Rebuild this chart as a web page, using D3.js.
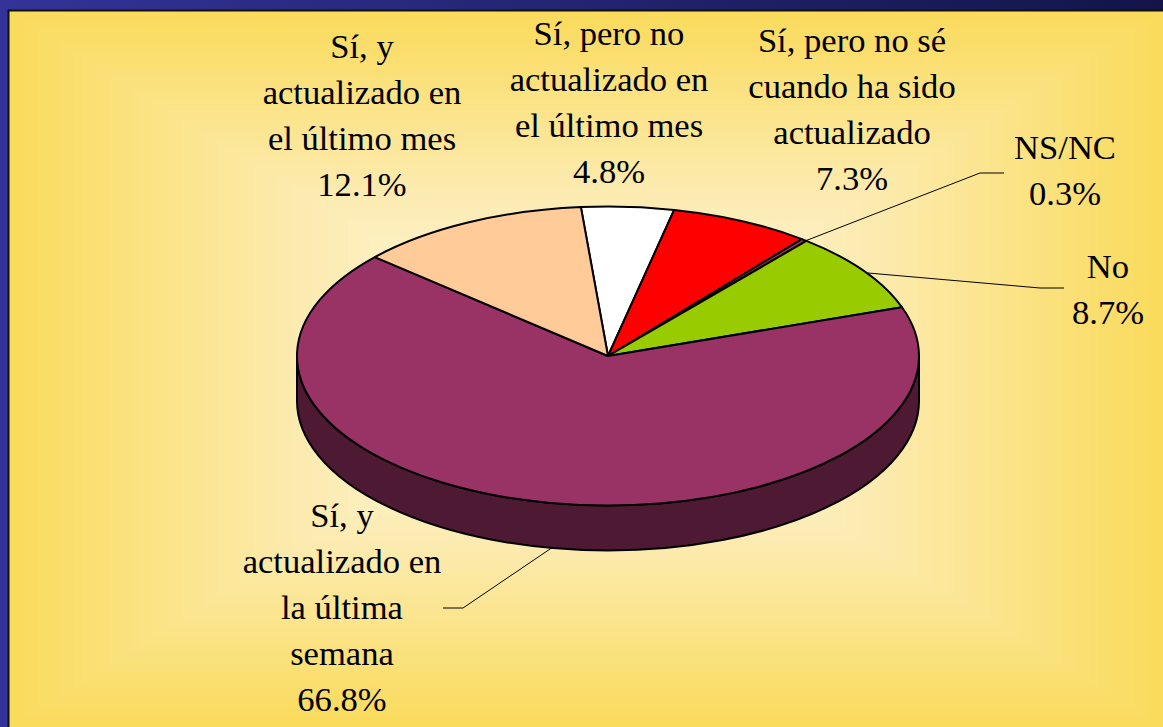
<!DOCTYPE html>
<html><head><meta charset="utf-8">
<script src="https://cdn.jsdelivr.net/npm/d3@7"></script>
<style>html,body{margin:0;padding:0;overflow:hidden;background:#333399}svg{display:block}</style>
</head><body><svg id="c" width="1163" height="727"></svg>
<script>
const categories=["Sí, pero no actualizado en el último mes","Sí, pero no sé cuando ha sido actualizado","NS/NC","No","Sí, y actualizado en la última semana","Sí, y actualizado en el último mes"];
const values=[4.8,7.3,0.3,8.7,66.8,12.1];
const colors=["#FFFFFF","#FF0000","#993366","#99CC00","#993366","#FFCC99"];
const labelLines=[["Sí, pero no","actualizado en","el último mes","4.8%"],["Sí, pero no sé","cuando ha sido","actualizado","7.3%"],["NS/NC","0.3%"],["No","8.7%"],["Sí, y","actualizado en","la última","semana","66.8%"],["Sí, y","actualizado en","el último mes","12.1%"]];
const labelCenters=[[609,34],[852,41],[1065,148],[1108,267],[342,516],[362,47]];
const leaders=[null,null,[[805,241],[980,173],[1004,173]],[[868,273],[1040,288],[1064,288]],[[553,547],[463,608],[443,608]],null];

const svg=d3.select("#c");
const defs=svg.append("defs");
const g=defs.append("linearGradient").attr("id","bar");
g.append("stop").attr("offset","0").attr("stop-color","#333399");
g.append("stop").attr("offset","1").attr("stop-color","#14144A");
svg.append("rect").attr("width",1163).attr("height",727).attr("fill","#333399");
svg.append("rect").attr("width",1163).attr("height",11).attr("fill","url(#bar)");

// panel with rectangular (box) gradient
const px=9,py=11,pw=1154,ph=716,steps=80;
const cx=px+pw/2,cy=py+ph/2;
const col=d3.scaleLinear().domain([0,0.5,1]).range(["#FADB5C","#FCEBB0","#FFFAE8"]).interpolate(d3.interpolateRgb);
svg.append("rect").attr("x",px).attr("y",py).attr("width",pw).attr("height",ph).attr("fill","#FADB5C");
const clip=defs.append("clipPath").attr("id","pc");
clip.append("rect").attr("x",px).attr("y",py).attr("width",pw).attr("height",ph);
svg.append("g").attr("clip-path","url(#pc)").selectAll("rect").data(d3.range(steps)).join("rect")
 .each(function(i){const t=i/steps,w=pw*(1-t),h=ph*(1-t);
  d3.select(this).attr("x",cx-w/2).attr("y",cy-h/2).attr("width",w).attr("height",h).attr("fill",col(t));});
svg.append("path").attr("d",`M${px-0.5},727V${py-0.5}H1163`).attr("fill","none").attr("stroke","#111").attr("stroke-width",2);

// pie
const rx=311,ry=149.5,depth=45,pcx=608,pcy=356;
const toRad=Math.PI/180;
const arcs=d3.pie().sort(null).value(d=>d).startAngle(-5*toRad).endAngle(355*toRad)(values);
const pt=(a,dy=0)=>[pcx+rx*Math.sin(a),pcy-ry*Math.cos(a)+dy];
function slicePath(s){
 const [x0,y0]=pt(s.startAngle),[x1,y1]=pt(s.endAngle);
 const large=(s.endAngle-s.startAngle)>Math.PI?1:0;
 return `M${pcx},${pcy}L${x0},${y0}A${rx},${ry} 0 ${large} 1 ${x1},${y1}Z`;
}
const yBase=pcy;
svg.append("path").attr("d",`M${pcx-rx},${yBase}A${rx},${ry} 0 0 0 ${pcx+rx},${yBase}V${yBase+depth}A${rx},${ry} 0 0 1 ${pcx-rx},${yBase+depth}Z`)
 .attr("fill","#4D1933").attr("stroke","#000").attr("stroke-width",2).attr("stroke-linejoin","round");
svg.append("g").selectAll("path").data(arcs).join("path").attr("d",slicePath)
 .attr("fill",(d,i)=>colors[i]).attr("stroke","#000").attr("stroke-width",2).attr("stroke-linejoin","round");

// leaders
svg.append("g").selectAll("path").data(leaders.filter(Boolean)).join("path")
 .attr("d",d3.line()).attr("fill","none").attr("stroke","#000").attr("stroke-width",1);

// labels
const lh=46;
const tg=svg.append("g").attr("font-family","'Liberation Serif',serif").attr("font-size",34.6).attr("fill","#000").attr("text-anchor","middle");
labelLines.forEach((lines,i)=>{
 lines.forEach((t,j)=>tg.append("text").attr("x",labelCenters[i][0]).attr("y",labelCenters[i][1]+j*lh+11).text(t));
});
</script></body></html>
